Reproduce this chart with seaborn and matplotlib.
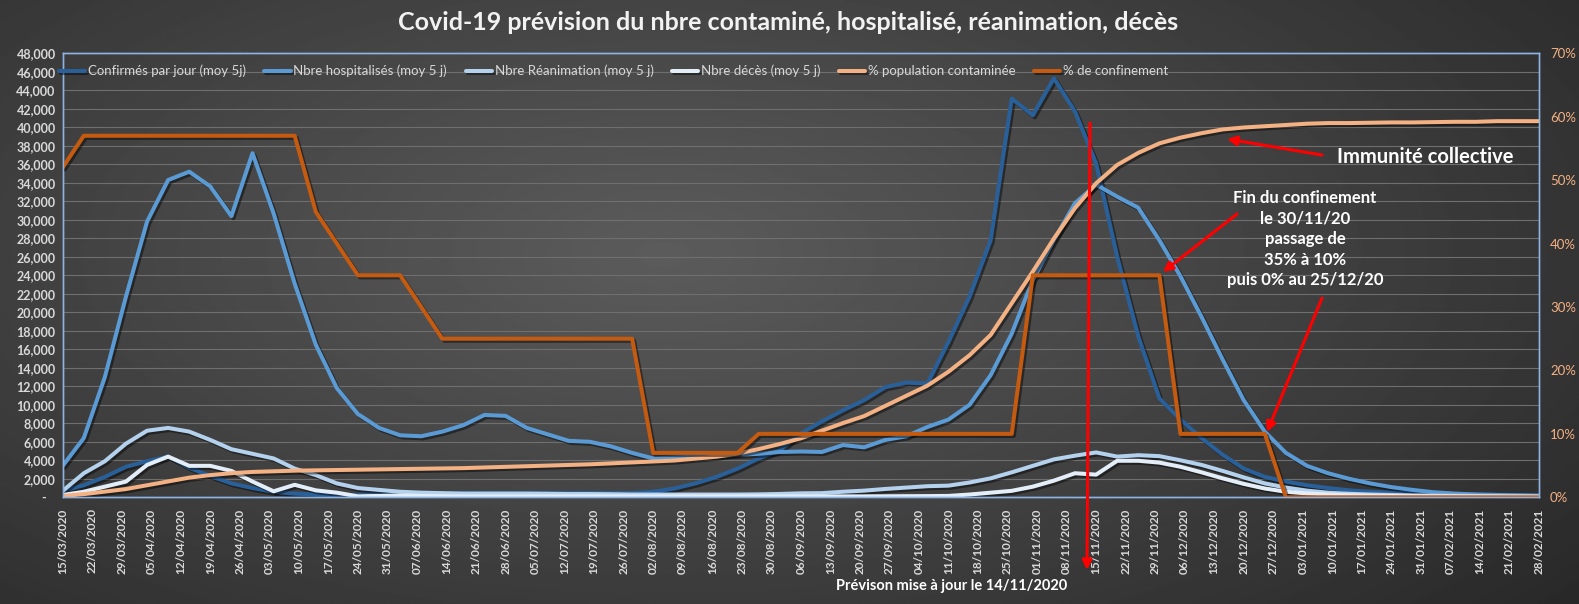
"""Covid-19 forecast chart: confirmed, hospital, ICU, deaths + % population / % lockdown."""
import numpy as np
import pandas as pd
import matplotlib
matplotlib.use("Agg")
import matplotlib.pyplot as plt
import matplotlib.dates as mdates
import matplotlib.patheffects as pe
from matplotlib.ticker import FuncFormatter, MultipleLocator
import seaborn as sns

W, H = 1579, 604

# one point every 5 days, labels every week
dates = pd.date_range("2020-03-15", "2021-02-28", freq="5D")
tick_dates = pd.date_range("2020-03-15", "2021-02-28", freq="7D")

confirmes = [700, 1300, 2200, 3300, 3900, 4400, 3200, 2300, 1500, 1000,
             600, 400, 300, 250, 250, 300, 350, 400, 400, 450,
             450, 450, 450, 450, 450, 450, 450, 450, 600, 950,
             1500, 2200, 3100, 4200, 5100, 6900, 8200, 9400, 10500, 11900,
             12400, 12300, 16800, 21700, 27800, 43100, 41300, 45300, 41700, 36100,
             26000, 17400, 10700, 8400, 6400, 4600, 3100, 2200, 1700, 1300,
             1000, 750, 600, 500, 430, 380, 330, 300, 270, 250, 220]
hospitalises = [3400, 6400, 13000, 21700, 29800, 34300, 35200, 33600, 30400, 37200,
                30700, 23100, 16500, 11800, 9000, 7500, 6700, 6600, 7100, 7800,
                8900, 8800, 7500, 6800, 6100, 6000, 5500, 4800, 4200, 4300,
                4400, 4500, 4600, 4700, 4900, 4950, 4900, 5650, 5400, 6200,
                6600, 7600, 8400, 10000, 13200, 17700, 23500, 27800, 31800, 33800,
                32500, 31300, 27800, 23900, 19500, 14900, 10500, 7100, 4800, 3400,
                2600, 2000, 1500, 1100, 800, 550, 400, 300, 250, 200, 150]
reanimation = [700, 2600, 3900, 5800, 7200, 7500, 7100, 6200, 5200, 4700,
               4200, 3100, 2400, 1500, 1000, 800, 600, 500, 450, 400,
               400, 400, 400, 380, 350, 350, 330, 300, 300, 300,
               300, 300, 300, 320, 360, 430, 450, 600, 720, 900,
               1050, 1200, 1260, 1600, 2050, 2700, 3400, 4100, 4500, 4850,
               4400, 4550, 4450, 4000, 3500, 2850, 2150, 1500, 1050, 720,
               500, 380, 300, 250, 200, 180, 160, 140, 120, 110, 100]
deces = [250, 600, 1150, 1700, 3500, 4400, 3400, 3400, 2850, 1700,
         650, 1350, 750, 500, 100, 150, 200, 150, 120, 100,
         100, 100, 100, 100, 100, 100, 100, 100, 100, 100,
         100, 100, 100, 100, 100, 100, 100, 100, 100, 110,
         120, 130, 150, 300, 500, 700, 1150, 1800, 2600, 2450,
         3950, 3950, 3750, 3300, 2700, 2050, 1450, 950, 600, 420,
         300, 220, 170, 140, 120, 100, 90, 80, 70, 60, 50]
pct_population = [0.2, 0.5, 0.9, 1.3, 1.9, 2.5, 3.1, 3.5, 3.8, 4.0,
                  4.1, 4.2, 4.25, 4.3, 4.35, 4.4, 4.45, 4.5, 4.55, 4.6,
                  4.7, 4.8, 4.9, 5.0, 5.1, 5.2, 5.35, 5.5, 5.65, 5.8,
                  6.1, 6.4, 6.9, 7.6, 8.4, 9.3, 10.5, 11.7, 12.8, 14.4,
                  16.0, 17.6, 19.8, 22.4, 25.6, 30.6, 35.6, 40.8, 45.6, 49.5,
                  52.4, 54.3, 55.8, 56.7, 57.4, 58.0, 58.3, 58.5, 58.7, 58.9,
                  59.0, 59.0, 59.05, 59.1, 59.1, 59.15, 59.2, 59.2, 59.3, 59.3, 59.3]
pct_confinement = [52, 57, 57, 57, 57, 57, 57, 57, 57, 57,
                   57, 57, 45, 40, 35, 35, 35, 30, 25, 25,
                   25, 25, 25, 25, 25, 25, 25, 25, 7, 7,
                   7, 7, 7, 10, 10, 10, 10, 10, 10, 10,
                   10, 10, 10, 10, 10, 10, 35, 35, 35, 35,
                   35, 35, 35, 10, 10, 10, 10, 10, 0, 0,
                   0, 0, 0, 0, 0, 0, 0, 0, 0, 0, 0]

left_series = [
    ("Confirmés par jour (moy 5j)", confirmes, "#2a6099"),
    ("Nbre hospitalisés (moy 5 j)", hospitalises, "#5b9bd5"),
    ("Nbre Réanimation (moy 5 j)", reanimation, "#b4d1ee"),
    ("Nbre décès (moy 5 j)", deces, "#e3eef9"),
]
right_series = [
    ("% population contaminée", pct_population, "#f4b183"),
    ("% de confinement", pct_confinement, "#c55a11"),
]

sns.set_style("dark")
plt.rcParams["font.family"] = ["Lato", "DejaVu Sans"]
plt.rcParams["axes.unicode_minus"] = False

TXT = "#d9d9d9"
EDGE = "#8db3e2"


def fx(x):
    return x / W


def fy(y):
    return 1 - y / H


fig = plt.figure(figsize=(W / 100, H / 100), dpi=100)

# dark radial background like the Excel theme
bg = fig.add_axes([0, 0, 1, 1], zorder=-10)
yy, xx = np.mgrid[0:1:300j, 0:1:600j]
r = np.sqrt(((xx - 0.42) / 0.75) ** 2 + ((yy - 0.42) / 0.9) ** 2)
shade = np.clip(0.36 - 0.2 * r, 0.15, 0.4)
bg.imshow(shade, cmap="gray", vmin=0, vmax=1, aspect="auto", extent=[0, 1, 0, 1])
bg.axis("off")

ax = fig.add_axes([fx(62.7), fy(497.3), fx(1539 - 62.7), (497.3 - 53.3) / H])
ax.set_facecolor("none")
ax2 = ax.twinx()

shadow = [pe.SimpleLineShadow(offset=(1.5, -1.5), shadow_color="black", alpha=0.45), pe.Normal()]
for label, vals, color in left_series:
    sns.lineplot(x=dates, y=vals, ax=ax, color=color, lw=2.9, label=label,
                 legend=False, errorbar=None, path_effects=shadow)
for label, vals, color in right_series:
    sns.lineplot(x=dates, y=vals, ax=ax2, color=color, lw=2.9, label=label,
                 legend=False, errorbar=None, path_effects=shadow)

ax.set_xlim(dates[0], dates[-1])
ax.set_ylim(0, 48000)
ax2.set_ylim(0, 70)
ax.yaxis.set_major_locator(MultipleLocator(2000))
ax2.yaxis.set_major_locator(MultipleLocator(10))
ax.yaxis.set_major_formatter(FuncFormatter(lambda v, p: "-   " if v == 0 else f"{v:,.0f}"))
ax2.yaxis.set_major_formatter(FuncFormatter(lambda v, p: f"{v:.0f}%"))
ax.set_xticks(tick_dates)
ax.xaxis.set_major_formatter(mdates.DateFormatter("%d/%m/%Y"))
for a in (ax, ax2):
    a.set_xlabel("")
    a.set_ylabel("")
    for s in a.spines.values():
        s.set_visible(True)
        s.set_color(EDGE)
        s.set_linewidth(1)

ax.yaxis.grid(True, color="#6f6f6f", lw=0.8)
ax.xaxis.grid(False)
ax2.grid(False)
ax.tick_params(axis="y", length=0, pad=5, labelsize=9, labelcolor=TXT)
ax.tick_params(axis="x", length=4, color="#8c8c8c", pad=4, labelsize=8.5,
               labelcolor=TXT, labelrotation=90)
ax2.tick_params(axis="y", length=0, pad=8, labelsize=9.5, labelcolor="#f4b183")
for lbl in ax.get_yticklabels() + ax.get_xticklabels():
    lbl.set_fontweight("bold")

h1, l1 = ax.get_legend_handles_labels()
h2, l2 = ax2.get_legend_handles_labels()
ax2.legend(h1 + h2, l1 + l2, loc="center left", bbox_to_anchor=(fx(47), fy(71)),
           bbox_transform=fig.transFigure, ncol=6, frameon=False, fontsize=9.5,
           handlelength=2.0, handletextpad=0.2, columnspacing=1.4, labelcolor=TXT)

fig.text(fx(788), fy(22), "Covid-19 prévision du nbre contaminé, hospitalisé, réanimation, décès",
         ha="center", va="center", fontsize=18, fontweight="bold", color="#f2f2f2")
fig.text(fx(952), fy(586), "Prévison mise à jour le 14/11/2020",
         ha="center", va="center", fontsize=10.5, fontweight="bold", color="white")
fig.text(fx(1425), fy(157), "Immunité collective",
         ha="center", va="center", fontsize=14.5, fontweight="bold", color="white")
fig.text(fx(1305), fy(239),
         "Fin du confinement\nle 30/11/20\npassage de\n35% à 10%\npuis 0% au 25/12/20",
         ha="center", va="center", multialignment="center", linespacing=1.35,
         fontsize=12, fontweight="bold", color="white")

arrow = dict(arrowstyle="-|>", color="#ff0000", lw=2.2, mutation_scale=14, shrinkA=0, shrinkB=0)
for (x0, y0), (x1, y1) in [((1090, 123), (1087, 570)),
                           ((1322, 155), (1227, 139)),
                           ((1237, 214), (1163, 272)),
                           ((1322, 298), (1267, 432))]:
    ax2.annotate("", xy=(fx(x1), fy(y1)), xytext=(fx(x0), fy(y0)),
                 xycoords="figure fraction", textcoords="figure fraction",
                 arrowprops=arrow, annotation_clip=False, zorder=20)

fig.savefig("out.png", dpi=100)
plt.close(fig)
